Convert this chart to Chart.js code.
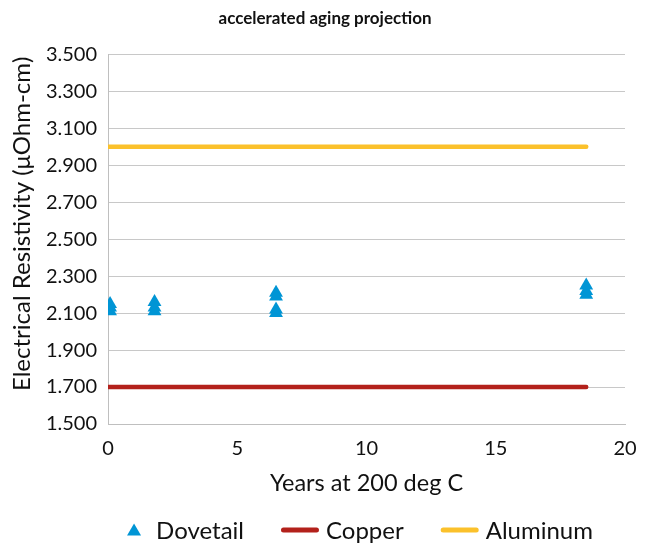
<!DOCTYPE html>
<html>
<head>
<meta charset="utf-8">
<script src="https://cdn.jsdelivr.net/npm/chart.js@4"></script>
<style>
  html,body{margin:0;padding:0;background:#fff;}
  canvas{display:block;}
</style>
</head>
<body>
<canvas id="chart" width="650" height="548"></canvas>
<script>
// values
const dovetailX=[0.08,0.08,0.08, 1.8,1.8,1.8, 6.5,6.5,6.5,6.5, 18.5,18.5,18.5];
const dovetailY=[2.15,2.13,2.11, 2.16,2.13,2.11, 2.21,2.19,2.12,2.10, 2.25,2.22,2.20];
const lineX=[0,18.5];
const copperY=[1.7,1.7];
const aluminumY=[3.0,3.0];
const yTicks={min:1.5,max:3.5,step:0.2};
const xTicks={min:0,max:20,step:5};

const FONT='Lato, "Open Sans", sans-serif';
const pts=(xs,ys)=>xs.map((x,i)=>({x,y:ys[i]}));

// legend drawn by hand so the marker sizes and gaps follow the picture
const legendPlugin={
  id:'hand-legend',
  afterDraw(chart){
    const ctx=chart.ctx, y=530;
    ctx.save();
    ctx.font=`24px ${FONT}`;
    ctx.textBaseline='middle';
    const items=chart.data.datasets.map(ds=>{
      const tri=ds.pointStyle==='triangle';
      return {ds,tri,mw:tri?14:38,gap:tri?15:7,tw:ctx.measureText(ds.label).width};
    });
    const itemGap=37;
    const total=items.reduce((s,it)=>s+it.mw+it.gap+it.tw,0)+itemGap*(items.length-1);
    let x=360-total/2;
    items.forEach(it=>{
      const col=it.ds.borderColor;
      if(it.tri){
        ctx.fillStyle=col;
        ctx.beginPath();
        ctx.moveTo(x+it.mw/2,y-6.5); ctx.lineTo(x+it.mw,y+5.5); ctx.lineTo(x,y+5.5);
        ctx.closePath(); ctx.fill();
      }else{
        ctx.strokeStyle=col; ctx.lineWidth=5; ctx.lineCap='round';
        ctx.beginPath(); ctx.moveTo(x+2.5,y); ctx.lineTo(x+it.mw-2.5,y); ctx.stroke();
      }
      x+=it.mw+it.gap;
      ctx.fillStyle='#111';
      ctx.fillText(it.ds.label,x,y+1);
      x+=it.tw+itemGap;
    });
    ctx.restore();
  }
};

new Chart(document.getElementById('chart'),{
  type:'scatter',
  data:{datasets:[
    {label:'Dovetail',data:pts(dovetailX,dovetailY),pointStyle:'triangle',pointRadius:8,
     backgroundColor:'#0095d5',borderColor:'#0095d5',pointBorderWidth:0,showLine:false},
    {label:'Copper',data:pts(lineX,copperY),showLine:true,borderColor:'#b3211b',backgroundColor:'#b3211b',
     borderWidth:4.5,pointRadius:0,borderCapStyle:'round'},
    {label:'Aluminum',data:pts(lineX,aluminumY),showLine:true,borderColor:'#fbc12b',backgroundColor:'#fbc12b',
     borderWidth:4.5,pointRadius:0,borderCapStyle:'round'}
  ]},
  options:{
    responsive:false,animation:false,
    layout:{padding:{left:0,right:0,top:4,bottom:0}},
    plugins:{
      title:{display:true,text:'accelerated aging projection',color:'#111',
        font:{family:FONT,size:17,weight:'bold'},padding:{top:4,bottom:26}},
      legend:{display:false},
      tooltip:{enabled:false}
    },
    scales:{
      x:{type:'linear',min:xTicks.min,max:xTicks.max,
        afterFit(s){ s.height=124; },
        ticks:{stepSize:xTicks.step,color:'#111',font:{family:FONT,size:20},padding:13},
        grid:{display:false,drawTicks:false},border:{color:'#bfbfbf'},
        title:{display:true,text:'Years at 200 deg C',color:'#111',font:{family:FONT,size:23.5},padding:{top:0,bottom:50}}},
      y:{min:yTicks.min,max:yTicks.max,
        afterFit(s){ s.width=108; },
        ticks:{stepSize:yTicks.step,color:'#111',font:{family:FONT,size:20},padding:11,
          callback:v=>Number(v).toFixed(3)},
        grid:{color:'#c8c8c8',drawTicks:false},border:{color:'#bfbfbf'},
        title:{display:true,text:'     Electrical Resistivity (μOhm-cm)',color:'#111',font:{family:FONT,size:24},padding:{top:8,bottom:0}}},
      // empty right-hand strip so the plot ends where the picture's does
      yRight:{position:'right',display:true,afterFit(s){ s.width=25; },
        ticks:{display:false},grid:{display:false},border:{display:false}}
    }
  },
  plugins:[legendPlugin]
});
</script>
</body>
</html>
